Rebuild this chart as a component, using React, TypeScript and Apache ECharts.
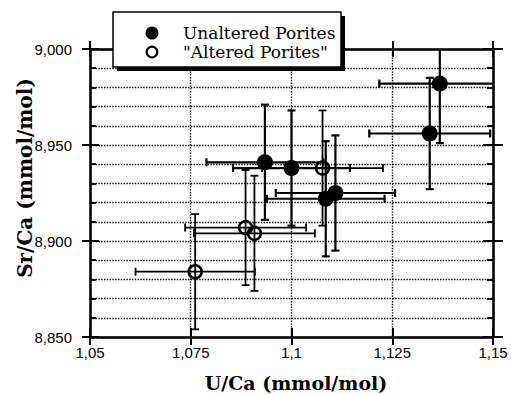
import React, { useEffect, useRef } from "react";
import * as echarts from "echarts";

// Unaltered Porites (filled circles)
const unalteredU = [1.0934, 1.1, 1.1085, 1.1109, 1.1343, 1.1368];
const unalteredSr = [8.941, 8.938, 8.922, 8.925, 8.956, 8.982];
const unalteredUErr = [0.0145, 0.0145, 0.0146, 0.0148, 0.015, 0.015];
const unalteredSrErr = [0.03, 0.03, 0.03, 0.03, 0.029, 0.031];

// "Altered Porites" (open circles)
const alteredU = [1.0761, 1.0886, 1.0908, 1.1077];
const alteredSr = [8.884, 8.907, 8.904, 8.938];
const alteredUErr = [0.0148, 0.015, 0.015, 0.015];
const alteredSrErr = [0.03, 0.03, 0.03, 0.03];

const xTicks = [1.05, 1.075, 1.1, 1.125, 1.15];
const yTicks = [8.85, 8.9, 8.95, 9.0];
const legendNames = ["Unaltered Porites", "\"Altered Porites\""];
const xTitle = "U/Ca (mmol/mol)";
const yTitle = "Sr/Ca (mmol/mol)";

const SERIF = "DejaVu Serif";
const SANS = "Liberation Sans";

function makeRows(u: number[], sr: number[], ue: number[], se: number[]) {
  return u.map((v, i) => [v, sr[i], ue[i], se[i]]);
}

function errorRenderer(lineWidth: number) {
  return (params: any, api: any) => {
    const x = api.value(0);
    const y = api.value(1);
    const ex = api.value(2);
    const ey = api.value(3);
    const l = api.coord([x - ex, y]);
    const r = api.coord([x + ex, y]);
    const t = api.coord([x, y + ey]);
    const b = api.coord([x, y - ey]);
    const cap = 4;
    const style = { stroke: "#000", lineWidth };
    const line = (x1: number, y1: number, x2: number, y2: number) => ({
      type: "line",
      shape: { x1, y1, x2, y2 },
      style,
    });
    return {
      type: "group",
      children: [
        line(l[0], l[1], r[0], r[1]),
        line(l[0], l[1] - cap, l[0], l[1] + cap),
        line(r[0], r[1] - cap, r[0], r[1] + cap),
        line(t[0], t[1], b[0], b[1]),
        line(t[0] - cap, t[1], t[0] + cap, t[1]),
        line(b[0] - cap, b[1], b[0] + cap, b[1]),
      ],
    };
  };
}

export default function App() {
  const ref = useRef<HTMLDivElement>(null);

  useEffect(() => {
    if (!ref.current) return;
    const chart = echarts.init(ref.current, null, { renderer: "svg" });

    const xBase: any = {
      type: "value",
      min: xTicks[0],
      max: xTicks[xTicks.length - 1],
      interval: 0.025,
    };
    const yBase: any = {
      type: "value",
      min: yTicks[0],
      max: yTicks[yTicks.length - 1],
      interval: 0.05,
    };
    const axisLineStyle = { color: "#000", width: 2.5 };
    const tickStyle = { color: "#000", width: 2 };
    const dotted = { color: "#000", width: 1.4, type: [1.4, 1.4] as any };

    const unRows = makeRows(unalteredU, unalteredSr, unalteredUErr, unalteredSrErr);
    const alRows = makeRows(alteredU, alteredSr, alteredUErr, alteredSrErr);

    chart.setOption({
      animation: false,
      backgroundColor: "#fff",
      grid: { left: 90, right: 18, top: 49, bottom: 57, containLabel: false },
      xAxis: [
        {
          ...xBase,
          position: "bottom",
          axisLine: { show: true, onZero: false, lineStyle: axisLineStyle },
          axisTick: { show: true, inside: true, length: 9, lineStyle: tickStyle },
          axisLabel: {
            show: true,
            margin: 8,
            color: "#000",
            fontSize: 15,
            fontFamily: SANS,
            formatter: (v: number) => String(parseFloat(v.toFixed(3))).replace(".", ","),
          },
          splitLine: { show: true, lineStyle: dotted },
        },
        {
          ...xBase,
          position: "bottom",
          axisLine: { show: false, onZero: false },
          axisTick: { show: true, inside: false, length: 8, lineStyle: tickStyle },
          axisLabel: { show: false },
          splitLine: { show: false },
        },
        {
          ...xBase,
          position: "top",
          axisLine: { show: true, onZero: false, lineStyle: axisLineStyle },
          axisTick: { show: true, inside: true, length: 8, lineStyle: tickStyle },
          axisLabel: { show: false },
          splitLine: { show: false },
        },
        {
          ...xBase,
          position: "top",
          axisLine: { show: false, onZero: false },
          axisTick: { show: true, inside: false, length: 8, lineStyle: tickStyle },
          axisLabel: { show: false },
          splitLine: { show: false },
        },
      ],
      yAxis: [
        {
          ...yBase,
          position: "left",
          axisLine: { show: true, onZero: false, lineStyle: axisLineStyle },
          axisTick: { show: true, inside: true, length: 9, lineStyle: tickStyle },
          minorTick: { show: true, splitNumber: 5, length: 6, lineStyle: { color: "#000", width: 1.8 } },
          axisLabel: {
            show: true,
            margin: 18,
            color: "#000",
            fontSize: 15,
            fontFamily: SANS,
            formatter: (v: number) => v.toFixed(3).replace(".", ","),
          },
          splitLine: { show: true, lineStyle: dotted },
          minorSplitLine: { show: true, lineStyle: dotted },
        },
        {
          ...yBase,
          position: "left",
          axisLine: { show: false, onZero: false },
          axisTick: { show: true, inside: false, length: 8, lineStyle: tickStyle },
          axisLabel: { show: false },
          splitLine: { show: false },
        },
        {
          ...yBase,
          position: "right",
          axisLine: { show: true, onZero: false, lineStyle: axisLineStyle },
          axisTick: { show: true, inside: true, length: 10, lineStyle: tickStyle },
          minorTick: { show: true, splitNumber: 5, length: 6, lineStyle: { color: "#000", width: 1.8 } },
          axisLabel: { show: false },
          splitLine: { show: false },
        },
        {
          ...yBase,
          position: "right",
          axisLine: { show: false, onZero: false },
          axisTick: { show: true, inside: false, length: 10, lineStyle: tickStyle },
          axisLabel: { show: false },
          splitLine: { show: false },
        },
      ],
      series: [
        {
          type: "custom",
          name: legendNames[0] + " error",
          xAxisIndex: 0,
          yAxisIndex: 0,
          clip: true,
          z: 3,
          renderItem: errorRenderer(2.2),
          data: unRows,
        },
        {
          type: "custom",
          name: legendNames[1] + " error",
          xAxisIndex: 0,
          yAxisIndex: 0,
          clip: true,
          z: 3,
          renderItem: errorRenderer(1.8),
          data: alRows,
        },
        {
          type: "scatter",
          name: legendNames[1],
          xAxisIndex: 0,
          yAxisIndex: 0,
          z: 4,
          symbol: "circle",
          symbolSize: 13,
          itemStyle: { color: "rgba(0,0,0,0)", borderColor: "#000", borderWidth: 2.4, opacity: 1 },
          data: alRows.map((r) => [r[0], r[1]]),
        },
        {
          type: "scatter",
          name: legendNames[0],
          xAxisIndex: 0,
          yAxisIndex: 0,
          z: 5,
          symbol: "circle",
          symbolSize: 16,
          itemStyle: { color: "#000", opacity: 1 },
          data: unRows.map((r) => [r[0], r[1]]),
        },
      ],
      graphic: [
        {
          type: "rect",
          z: 20,
          shape: { x: 117, y: 16, width: 228, height: 55 },
          style: { fill: "#000" },
        },
        {
          type: "rect",
          z: 21,
          shape: { x: 113, y: 12, width: 228, height: 55 },
          style: { fill: "#fff", stroke: "#000", lineWidth: 1.5 },
        },
        {
          type: "circle",
          z: 22,
          shape: { cx: 152, cy: 33, r: 6.5 },
          style: { fill: "#000" },
        },
        {
          type: "circle",
          z: 22,
          shape: { cx: 152, cy: 52, r: 5.3 },
          style: { fill: "#fff", stroke: "#000", lineWidth: 2.2 },
        },
        {
          type: "text",
          z: 22,
          x: 183,
          y: 33,
          style: {
            text: legendNames[0],
            fill: "#000",
            fontFamily: SERIF,
            fontSize: 17,
            align: "left",
            verticalAlign: "middle",
          },
        },
        {
          type: "text",
          z: 22,
          x: 183,
          y: 52,
          style: {
            text: legendNames[1],
            fill: "#000",
            fontFamily: SERIF,
            fontSize: 17,
            align: "left",
            verticalAlign: "middle",
          },
        },
        {
          type: "text",
          x: 296,
          y: 383,
          style: {
            text: xTitle,
            fill: "#000",
            fontFamily: SERIF,
            fontSize: 19,
            fontWeight: "bold",
            align: "center",
            verticalAlign: "middle",
          },
        },
        {
          type: "text",
          x: 25,
          y: 178,
          rotation: Math.PI / 2,
          style: {
            text: yTitle,
            fill: "#000",
            fontFamily: SERIF,
            fontSize: 20,
            fontWeight: "bold",
            align: "center",
            verticalAlign: "middle",
          },
        },
      ],
    });

    return () => chart.dispose();
  }, []);

  return (
    <div
      ref={ref}
      style={{ position: "fixed", left: 0, top: 0, width: 511, height: 394, background: "#fff" }}
    />
  );
}
